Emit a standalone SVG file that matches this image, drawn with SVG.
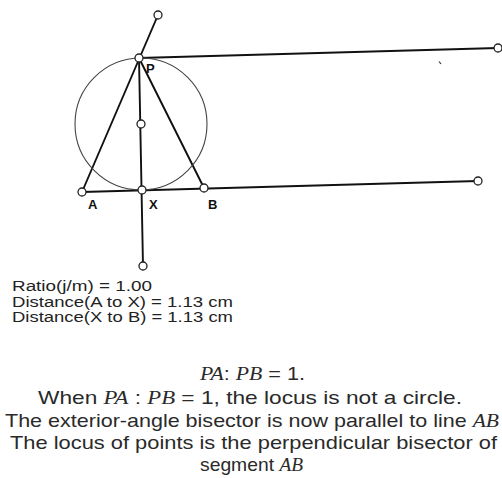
<svg xmlns="http://www.w3.org/2000/svg" width="502" height="478" viewBox="0 0 502 478">
<style>
.ln{stroke:#111;stroke-width:1.9;fill:none;stroke-linecap:round}
.circ{stroke:#444;stroke-width:1.1;fill:none}
.pt{fill:#fff;stroke:#222;stroke-width:1.3}
.lbl{font-family:"Liberation Sans",Arial,sans-serif;font-weight:bold;font-size:13px;fill:#111}
.meas{font-family:"Liberation Sans",Arial,sans-serif;font-size:14px;fill:#222}
.cap{font-family:"Liberation Sans",Arial,sans-serif;font-size:19px;fill:#2a2a2a}
.it{font-family:"Liberation Serif","Times New Roman",serif;font-style:italic}
</style>
<rect width="502" height="478" fill="#fff"/>
<g id="connectors">
<line class="ln" x1="82" y1="192" x2="478" y2="181"/>
<line class="ln" x1="82" y1="192" x2="158" y2="15"/>
<line class="ln" x1="139" y1="58" x2="204" y2="188"/>
<line class="ln" x1="139" y1="58" x2="143" y2="266"/>
<line class="ln" x1="139" y1="58" x2="498" y2="48"/>
<line x1="439" y1="61.5" x2="441" y2="64" stroke="#333" stroke-width="1.2"/>
</g>
<g id="circle-locus">
<circle class="circ" cx="141" cy="124" r="66"/>
</g>
<g id="node-top"><circle class="pt" cx="158" cy="15" r="4"/></g>
<g id="node-P"><circle class="pt" cx="139" cy="58" r="4"/><text class="lbl" x="146" y="73" font-size="11">P</text></g>
<g id="node-center"><circle class="pt" cx="141" cy="124" r="4"/></g>
<g id="node-A"><circle class="pt" cx="82" cy="192" r="4"/><text class="lbl" x="88" y="209">A</text></g>
<g id="node-X"><circle class="pt" cx="142" cy="190" r="4"/><text class="lbl" x="149" y="209">X</text></g>
<g id="node-B"><circle class="pt" cx="204" cy="188" r="4"/><text class="lbl" x="208" y="209">B</text></g>
<g id="node-bottom"><circle class="pt" cx="143" cy="266" r="4"/></g>
<g id="node-right-top"><circle class="pt" cx="498" cy="48" r="4"/></g>
<g id="node-right-bottom"><circle class="pt" cx="478" cy="181" r="4"/></g>
<g id="measurements">
<text class="meas" x="12" y="291" textLength="140" lengthAdjust="spacingAndGlyphs">Ratio(j/m) = 1.00</text>
<text class="meas" x="12" y="306.5" textLength="221" lengthAdjust="spacingAndGlyphs">Distance(A to X) = 1.13 cm</text>
<text class="meas" x="12" y="322" textLength="221" lengthAdjust="spacingAndGlyphs">Distance(X to B) = 1.13 cm</text>
</g>
<g id="caption">
<text class="cap" x="200" y="380" textLength="105" lengthAdjust="spacingAndGlyphs"><tspan class="it">PA</tspan>: <tspan class="it">PB</tspan> = 1.</text>
<text class="cap" x="38" y="404" textLength="424" lengthAdjust="spacingAndGlyphs">When <tspan class="it">PA</tspan> : <tspan class="it">PB</tspan> = 1, the locus is not a circle.</text>
<text class="cap" x="5" y="427" textLength="494" lengthAdjust="spacingAndGlyphs">The exterior-angle bisector is now parallel to line <tspan class="it">AB</tspan></text>
<text class="cap" x="10" y="449" textLength="487" lengthAdjust="spacingAndGlyphs">The locus of points is the perpendicular bisector of</text>
<text class="cap" x="200" y="471" textLength="103" lengthAdjust="spacingAndGlyphs">segment <tspan class="it">AB</tspan></text>
</g>
</svg>
